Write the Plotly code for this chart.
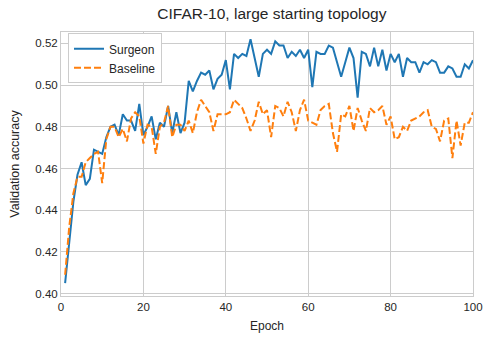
import plotly.graph_objects as go

epochs = list(range(1, 101))

surgeon = [
    0.405, 0.425, 0.444, 0.457, 0.463, 0.452, 0.455, 0.469, 0.468, 0.467,
    0.475, 0.480, 0.481, 0.476, 0.486, 0.483, 0.483, 0.478, 0.491, 0.476,
    0.480, 0.485, 0.474, 0.482, 0.480, 0.490, 0.477, 0.487, 0.477, 0.482,
    0.502, 0.497, 0.502, 0.506, 0.505, 0.507, 0.498, 0.503, 0.505, 0.512,
    0.498, 0.515, 0.513, 0.515, 0.514, 0.522, 0.513, 0.504, 0.515, 0.517,
    0.515, 0.521, 0.519, 0.519, 0.513, 0.516, 0.514, 0.517, 0.513, 0.517,
    0.499, 0.516, 0.515, 0.515, 0.519, 0.518, 0.511, 0.504, 0.511, 0.518,
    0.513, 0.494, 0.516, 0.515, 0.509, 0.518, 0.509, 0.517, 0.507, 0.515,
    0.511, 0.515, 0.504, 0.513, 0.511, 0.511, 0.506, 0.511, 0.510, 0.512,
    0.511, 0.506, 0.506, 0.509, 0.508, 0.504, 0.504, 0.510, 0.508, 0.512,
]

baseline = [
    0.409, 0.432, 0.448, 0.456, 0.456, 0.463, 0.465, 0.467, 0.468, 0.453,
    0.474, 0.480, 0.480, 0.475, 0.479, 0.473, 0.484, 0.487, 0.485, 0.472,
    0.481, 0.480, 0.467, 0.480, 0.482, 0.490, 0.475, 0.481, 0.481, 0.478,
    0.483, 0.477, 0.487, 0.493, 0.490, 0.487, 0.478, 0.486, 0.486, 0.486,
    0.487, 0.493, 0.491, 0.489, 0.484, 0.478, 0.483, 0.492, 0.486, 0.488,
    0.475, 0.490, 0.489, 0.485, 0.492, 0.487, 0.478, 0.488, 0.493, 0.483,
    0.482, 0.481, 0.488, 0.490, 0.491, 0.477, 0.468, 0.486, 0.485, 0.490,
    0.478, 0.489, 0.483, 0.478, 0.489, 0.487, 0.488, 0.490, 0.481, 0.485,
    0.474, 0.475, 0.480, 0.478, 0.483, 0.484, 0.485, 0.487, 0.488, 0.480,
    0.479, 0.473, 0.483, 0.484, 0.465, 0.483, 0.471, 0.482, 0.482, 0.487,
]

x_ticks = [0, 20, 40, 60, 80, 100]
y_ticks = [0.40, 0.42, 0.44, 0.46, 0.48, 0.50, 0.52]

FONT = "Liberation Sans, Arial, sans-serif"
GRID = "#cccccc"
TXT = "#262626"

fig = go.Figure()
fig.add_trace(go.Scatter(x=epochs, y=surgeon, mode="lines", name="Surgeon",
                         line=dict(color="#1f77b4", width=2)))
fig.add_trace(go.Scatter(x=epochs, y=baseline, mode="lines", name="Baseline",
                         line=dict(color="#ff7f0e", width=2, dash="7px,3px")))

fig.update_layout(
    width=493, height=340,
    margin=dict(l=61, r=10, t=32, b=39),
    paper_bgcolor="white", plot_bgcolor="white",
    font=dict(family=FONT, color=TXT, size=11),
    title=dict(text="CIFAR-10, large starting topology", x=0.5515, xanchor="center",
               y=0.96, yanchor="middle", font=dict(size=15.5, color=TXT)),
    showlegend=True,
    legend=dict(x=0.017, y=0.995, xanchor="left", yanchor="top",
                bgcolor="white", bordercolor=GRID, borderwidth=1,
                font=dict(size=12, color=TXT), itemwidth=30,
                tracegroupgap=0),
)
fig.update_xaxes(range=[0, 100], tickvals=x_ticks, showgrid=True, gridcolor=GRID,
                 gridwidth=1, showline=True, linecolor=GRID, linewidth=1, mirror=True,
                 zeroline=False, ticks="", title=dict(text="Epoch", font=dict(size=12), standoff=9),
                 tickfont=dict(size=11.5))
fig.update_yaxes(range=[0.3988, 0.5255], tickvals=y_ticks, tickformat=".2f",
                 showgrid=True, gridcolor=GRID, gridwidth=1, showline=True,
                 linecolor=GRID, linewidth=1, mirror=True, zeroline=False, ticks="",
                 title=dict(text="Validation accuracy", font=dict(size=12.5), standoff=12),
                 tickfont=dict(size=11.5))

fig.write_html("out.html")
